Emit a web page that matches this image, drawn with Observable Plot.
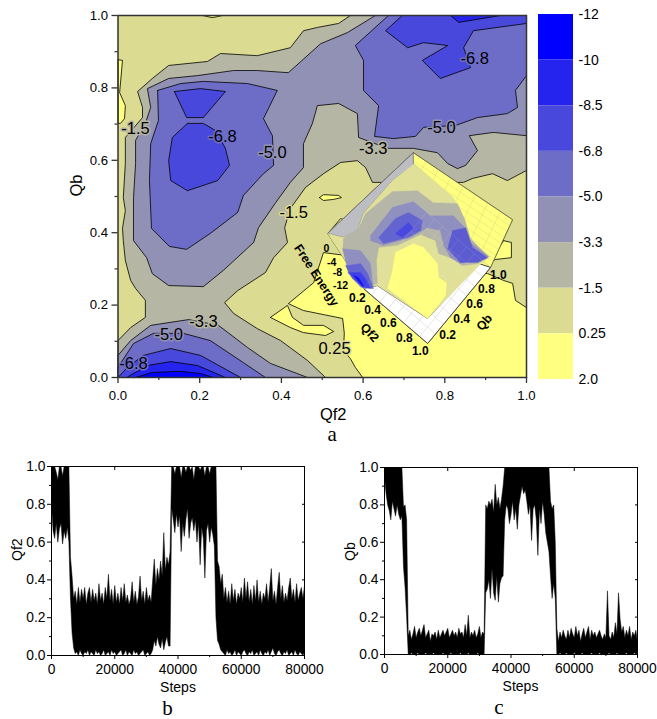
<!DOCTYPE html>
<html><head><meta charset="utf-8">
<script src="https://cdn.jsdelivr.net/npm/d3@7"></script>
<script src="https://cdn.jsdelivr.net/npm/@observablehq/plot@0.6"></script>
<style>
html,body{margin:0;padding:0;background:#fff}
#page{position:relative;width:657px;height:719px;overflow:hidden}
#page>div{position:absolute}
svg{display:block;background:transparent}
</style></head><body><div id="page"></div>
<script>
const SANS = "'Liberation Sans',Arial,sans-serif";
const SERIF = "'Liberation Serif','Times New Roman',serif";

// legend
const levelLabels = ["-12","-10","-8.5","-6.8","-5.0","-3.3","-1.5","0.25","2.0"];
const bandColors = ["#0000FF","#2424EE","#4848DD","#6D6DC8","#9191B6","#B6B6A4","#DBDB92","#FFFF80"];

// contour regions: [Qf2, Qb] outline points
const allArea = [[0,0],[1,0],[1,1],[0,1]];
const y1Big = [[.599,0],[.581,.028],[.569,.052],[.552,.075],[.554,.122],[.550,.163],[.454,.185],[.417,.204],[.479,.262],[.503,.345],[.905,.287],[.944,.268],[.966,.260],[.973,.213],[1,.193],[1,0]];
const y2Finger = [[.373,.166],[.415,.199],[.427,.166],[.454,.144],[.503,.144],[.528,.127],[.508,.116],[.454,.124],[.422,.138]];
const y3Sliver = [[.493,.497],[.503,.505],[.540,.503],[.547,.497],[.528,.492],[.503,.489]];
const y4Spot = [[.520,.406],[.545,.439],[.557,.434],[.532,.392]];
const y5Left = [[0,.878],[.011,.876],[.004,.787],[.018,.751],[.016,.715],[.006,.702],[0,.702]];
const y6Top = [[.207,1],[.231,.994],[.256,1]];
const y7Right = [[.944,.378],[.963,.373],[.963,.331],[.924,.326],[.907,.318]];
const l2Gray = [[.569,1],[.540,.978],[.488,.967],[.454,.958],[.422,.911],[.341,.889],[.251,.895],[.219,.873],[.124,.862],[.084,.826],[.048,.790],[.060,.746],[.060,.718],[.018,.663],[.018,.591],[.013,.497],[.018,.461],[.011,.412],[.013,.378],[.018,.323],[.031,.268],[.043,.246],[.067,.213],[.067,.166],[.031,.138],[0,.102],[0,0],[.508,0],[.464,.047],[.398,.102],[.341,.135],[.283,.177],[.261,.207],[.293,.240],[.361,.290],[.381,.331],[.415,.373],[.408,.414],[.422,.467],[.459,.525],[.503,.563],[.545,.594],[.586,.599],[.606,.580],[.623,.539],[.846,.539],[.868,.550],[.917,.563],[.953,.544],[1,.572],[1,1]];
const l3Upper = [[.630,1],[.562,.953],[.496,.922],[.417,.842],[.341,.848],[.283,.848],[.195,.834],[.124,.826],[.072,.798],[.080,.746],[.067,.702],[.043,.655],[.043,.591],[.038,.497],[.038,.378],[.070,.331],[.084,.287],[.124,.254],[.209,.251],[.258,.296],[.332,.373],[.344,.414],[.386,.483],[.422,.539],[.454,.580],[.454,.646],[.476,.702],[.488,.751],[.540,.757],[.586,.729],[.589,.663],[.660,.633],[.723,.633],[.782,.621],[.807,.591],[.831,.577],[.851,.586],[.880,.627],[.860,.668],[.919,.677],[1,.668],[1,1]];
const l3Lower = [[0,.061],[.031,.102],[.080,.144],[.173,.160],[.246,.144],[.317,.083],[.373,.039],[.464,0],[0,0]];
const l4Left = [[.097,.793],[.153,.812],[.209,.818],[.317,.812],[.390,.793],[.356,.715],[.378,.668],[.381,.586],[.356,.563],[.307,.503],[.293,.456],[.226,.398],[.168,.354],[.126,.362],[.082,.412],[.077,.544],[.080,.646],[.099,.710]];
const l4Right = [[.662,1],[.581,.917],[.601,.876],[.601,.793],[.638,.751],[.628,.666],[.674,.660],[.728,.666],[.748,.691],[.826,.696],[.880,.718],[.953,.729],[.978,.746],[.973,.793],[1,.834],[1,1]];
const l4Lower = [[0,.028],[.038,.094],[.087,.122],[.160,.122],[.226,.102],[.307,.041],[.361,0],[0,0]];
const l5Trap = [[.138,.790],[.202,.798],[.263,.790],[.209,.718],[.168,.718]];
const l5Core = [[.170,.702],[.209,.702],[.239,.682],[.263,.633],[.273,.586],[.244,.544],[.170,.516],[.129,.544],[.124,.599],[.133,.663]];
const l5Right = [[.696,1],[.655,.958],[.709,.911],[.748,.925],[.807,.917],[.745,.876],[.789,.826],[.863,.856],[.846,.911],[.870,.958],[1,.978],[1,1]];
const l5Lower = [[0,0],[.023,.028],[.062,.061],[.129,.080],[.202,.061],[.300,0]];
const l6Top = [[.814,1],[.834,.981],[.936,1]];
const l6Lower = [[.021,0],[.072,.033],[.129,.044],[.195,.033],[.263,0]];
const l7Lower = [[.043,0],[.084,.014],[.153,.017],[.202,.011],[.234,0]];

// contour labels
const contourText = ["-1.5","-6.8","-5.0","-3.3","-1.5","-6.8","-5.0","-3.3","-5.0","-6.8","0.25"];
const contourQf2 = [.043,.256,.378,.625,.430,.873,.792,.209,.124,.038,.530];
const contourQb = [.688,.666,.621,.633,.456,.881,.691,.155,.119,.039,.080];
const contourHalo = ["#B6B6A4","#6D6DC8","#9191B6","#B6B6A4","#DBDB92","#6D6DC8","#9191B6","#B6B6A4","#9191B6","#6D6DC8","#DBDB92"];

// inset 3D view, outlines in the coordinates of panel a
const insetBack = [[.723,.621],[.966,.436],[.912,.304],[.758,.094],[.601,.246],[.513,.398]];
const insetFloor = [[.601,.246],[.758,.094],[.912,.304],[.883,.315],[.758,.163],[.635,.254]];
const insetWall = [[.723,.621],[.513,.398],[.552,.387],[.586,.406],[.601,.453],[.672,.544],[.723,.586]];
const surfBase = [[.726,.591],[.821,.497],[.848,.439],[.863,.378],[.912,.334],[.883,.309],[.758,.163],[.635,.254],[.601,.246],[.513,.398],[.552,.387],[.586,.406],[.601,.453],[.672,.544]];
const surfYellow = [[.679,.345],[.723,.370],[.748,.359],[.782,.315],[.785,.276],[.804,.262],[.802,.226],[.758,.163],[.660,.246],[.672,.296]];
const surfGray = [[.552,.384],[.589,.412],[.606,.453],[.672,.514],[.733,.516],[.772,.483],[.831,.481],[.848,.439],[.863,.384],[.907,.334],[.883,.315],[.843,.309],[.819,.329],[.785,.342],[.777,.378],[.741,.395],[.684,.365],[.638,.359],[.633,.323],[.635,.260],[.601,.246],[.569,.287],[.550,.351]];
const surfSlate1 = [[.618,.392],[.672,.470],[.723,.486],[.765,.447],[.821,.447],[.851,.412],[.863,.373],[.907,.334],[.880,.323],[.838,.315],[.814,.331],[.797,.365],[.789,.406],[.758,.414],[.716,.387],[.650,.365],[.618,.378]];
const surfSlate2 = [[.550,.356],[.594,.351],[.618,.315],[.625,.246],[.594,.249],[.564,.287]];
const surfBlue1 = [[.638,.387],[.679,.439],[.711,.456],[.745,.434],[.741,.406],[.709,.387],[.650,.370]];
const surfBlue2 = [[.819,.406],[.851,.414],[.868,.359],[.905,.331],[.880,.318],[.838,.318],[.807,.356]];
const surfBlue3 = [[.557,.309],[.594,.315],[.611,.287],[.625,.246],[.599,.249],[.574,.273]];
const surfDark1 = [[.679,.398],[.711,.428],[.723,.412],[.696,.387]];
const surfDark2 = [[.564,.290],[.594,.290],[.606,.273],[.618,.246],[.599,.249]];
const surfDeep = [[.577,.282],[.589,.276],[.601,.254],[.599,.251]];
const floorCorners = [[.601,.246],[.758,.094],[.912,.304]];
const wallCorners = [[.723,.621],[.966,.436],[.912,.304]];

const insetText = ["0","-4","-8","-12","0.2","0.4","0.6","0.8","1.0","0.2","0.4","0.6","0.8","1.0"];
const insetQf2 = [.510,.523,.537,.545,.586,.623,.662,.701,.740,.807,.841,.873,.902,.931];
const insetQb = [.356,.318,.290,.254,.218,.185,.149,.110,.072,.116,.160,.202,.243,.282];
const insetSize = [10.5,10.5,10.5,10.5,12,12,12,12,12,12,12,12,12,12];
const insetTitles = ["Free Energy","Qf2","Qb"];
const insetTitleQf2 = [.486,.616,.897];
const insetTitleQb = [.282,.124,.152];
const insetTitleAngle = [57,48,-50];

// panels b and c: upper and lower edge of the black trace, one value every 500 steps
const stepSize = 500;
const bTop = [1,1,1,.97,.93,1,1,.95,1,1,1,1,.52,.42,.30,
.34,.27,.36,.28,.35,.30,.36,.27,.33,.36,.28,.35,.29,.33,.27,.38,.29,.33,.27,.36,.30,.43,.29,.35,.27,.37,.28,.33,.27,.36,.29,.38,.28,.32,.27,.30,.39,.28,.34,.27,.31,.42,.29,.34,.27,.36,.29,.32,.28,.40,
.51,.37,.46,.40,.50,.42,.65,.45,.52,.48,.55,
1,1,.96,1,1,1,.94,1,1,.97,1,1,.98,1,.93,1,1,1,.98,1,1,.95,1,1,.96,1,1,1,1,
.50,.47,.38,.43,
.30,.36,.28,.34,.27,.38,.29,.35,.27,.33,.30,.36,.28,.41,.30,.39,.28,.35,.27,.37,.29,.40,.28,.34,.27,.33,.30,.38,.28,.36,.46,.29,.34,.27,.36,.44,.30,.37,.28,.33,.29,.36,.41,.30,.35,.28,.38,.29,.33,.36,.30,.37];
const bBottom = [.80,.66,.62,.70,.60,.67,.70,.59,.66,.62,.68,.60,.30,.12,.04,
.01,.02,0,.03,.01,0,.02,.01,.03,0,.02,.01,0,.03,.01,.02,0,.01,.03,0,.01,.02,0,.03,.01,.02,0,.01,.02,.03,0,.01,.03,0,.02,.01,0,.03,.01,.02,0,.01,.02,.03,0,.01,.02,0,.01,.03,
.08,.05,.10,.06,.04,.09,.03,.07,.10,.05,.05,
.78,.72,.65,.75,.68,.74,.55,.70,.63,.72,.78,.62,.70,.73,.66,.72,.60,.70,.48,.68,.62,.41,.66,.70,.60,.68,.64,.58,.20,
.08,.06,.03,.02,
.01,0,.03,.01,.02,0,.01,.03,0,.02,.01,0,.02,.03,.01,0,.02,.01,.03,0,.01,.02,0,.03,.01,0,.02,.01,.03,0,.02,.04,.01,0,.02,.03,.01,0,.02,.01,.03,0,.01,.02,0,.03,.01,0,.02,.01,0,.02];
const cTop = [1,1,1,1,1,1,1,1,1,1,1,1,.79,.80,.72,
.10,.13,.08,.11,.15,.09,.12,.14,.10,.13,.16,.09,.11,.13,.07,.11,.10,.12,.08,.13,.09,.11,.13,.10,.12,.14,.09,.11,.13,.10,.12,.09,.14,.11,.12,.09,.16,.10,.21,.09,.12,.10,.13,.09,.11,.15,.09,.12,.11,
.80,.78,.82,.80,.83,.76,.91,.80,.84,.78,.83,.90,
1,1,1,1,1,1,1,1,1,1,1,1,1,1,1,1,1,1,1,1,1,1,1,1,1,1,1,1,1,
.82,.78,.80,.60,
.14,.07,.12,.09,.13,.10,.08,.13,.09,.14,.11,.09,.15,.10,.13,.07,.11,.14,.09,.12,.15,.08,.13,.10,.12,.09,.11,.13,.10,.08,.11,.09,.34,.10,.08,.12,.09,.17,.11,.33,.19,.12,.15,.09,.13,.10,.15,.08,.12,.10,.13,.06];
const cBottom = [.95,.86,.80,.77,.72,.82,.78,.74,.80,.75,.72,.74,.47,.36,.20,
0,0,.01,0,0,0,.01,0,0,0,0,.01,0,0,0,0,.01,0,0,0,0,0,.01,0,0,0,0,.01,0,0,0,0,0,.01,0,0,0,0,.01,0,0,0,0,0,.01,0,0,0,0,
.33,.35,.40,.30,.46,.33,.29,.42,.28,.38,.41,.42,
.72,.80,.78,.70,.75,.82,.72,.78,.67,.80,.85,.90,.86,.88,.82,.75,.80,.61,.78,.80,.72,.53,.78,.70,.82,.75,.65,.60,.55,
.42,.30,.38,.30,
0,0,.01,0,0,0,.01,0,0,0,0,.01,0,0,0,0,.01,0,0,0,0,0,.01,0,0,0,0,.01,0,0,0,0,0,.01,0,0,0,0,.01,0,0,0,0,0,.01,0,0,0,0,.01,0,0];

const stepTicks = [0,20000,40000,60000,80000];
const stepMinor = [10000,30000,50000,70000];
const unitTicks = [0,.2,.4,.6,.8,1];
const unitMinor = [.1,.3,.5,.7,.9];

const poly = (pts, fill, stroke="#000", strokeWidth=.8) =>
  Plot.line([...pts, pts[0]], {x:d=>d[0], y:d=>d[1], fill, stroke, strokeWidth, strokeLinejoin:"round"});
const flat = (pts, fill) => poly(pts, fill, fill, .3);

function latticeLinks([a,b,c], n, stroke, opacity, width=.6){
  const rows = [];
  const mix = (p,q,t)=>[p[0]+(q[0]-p[0])*t, p[1]+(q[1]-p[1])*t];
  const d = [c[0]-b[0], c[1]-b[1]];
  for (const i of d3.range(n+1)){
    const t=i/n, s=mix(a,b,t);
    rows.push({a:s, b:[s[0]+d[0], s[1]+d[1]]});
    const u=mix(a,[a[0]+d[0],a[1]+d[1]],t);
    rows.push({a:u, b:[u[0]+b[0]-a[0], u[1]+b[1]-a[1]]});
  }
  return Plot.link(rows,{x1:r=>r.a[0],y1:r=>r.a[1],x2:r=>r.b[0],y2:r=>r.b[1],stroke,strokeOpacity:opacity,strokeWidth:width});
}

function place(svg,left,top){
  const d=document.createElement("div");
  d.style.left=left+"px"; d.style.top=top+"px";
  d.appendChild(svg);
  document.getElementById("page").appendChild(d);
}

// panel a
place(Plot.plot({
  width:657,height:445,marginLeft:117.5,marginRight:131,marginTop:15,marginBottom:68,
  style:{fontFamily:SANS,background:"transparent",color:"#000"},
  x:{domain:[0,1]},y:{domain:[0,1]},
  marks:[
    flat(allArea,bandColors[6]),
    [y1Big,y2Finger,y3Sliver,y4Spot,y5Left,y6Top,y7Right].map(p=>poly(p,bandColors[7])),
    poly(l2Gray,bandColors[5]),
    poly(l3Upper,bandColors[4]),poly(l3Lower,bandColors[4]),
    poly(l4Left,bandColors[3]),poly(l4Right,bandColors[3]),poly(l4Lower,bandColors[3]),
    poly(l5Trap,bandColors[2]),poly(l5Core,bandColors[2]),poly(l5Right,bandColors[2]),poly(l5Lower,bandColors[2]),
    poly(l6Top,bandColors[1]),poly(l6Lower,bandColors[1]),
    poly(l7Lower,bandColors[0]),
    Plot.text(contourText,{x:(d,i)=>contourQf2[i],y:(d,i)=>contourQb[i],text:d=>d,fontSize:16.5,fill:"#000",stroke:(d,i)=>contourHalo[i],strokeWidth:3,paintOrder:"stroke"}),
    // inset
    poly(insetBack,bandColors[7],"#222",.7),
    latticeLinks(wallCorners,8,"#a8a878",.4,.5),
    flat(insetFloor,"#FFFFFF"),
    latticeLinks(floorCorners,8,"#999",.5,.5),
    poly(insetFloor,"none","#111",.8),
    poly(insetWall,"#BDBDC4","#666",.7),
    flat(surfBase,"#E0E098"),
    flat(surfYellow,"#FFFF80"),
    flat(surfGray,"#B6B6A8"),
    flat(surfSlate1,"#9090C0"),flat(surfSlate2,"#9090C0"),
    flat(surfBlue1,"#6464D0"),flat(surfBlue2,"#5C5CD0"),flat(surfBlue3,"#6464D0"),
    flat(surfDark1,"#4848E0"),flat(surfDark2,"#4040E8"),
    flat(surfDeep,"#1010F4"),
    latticeLinks(floorCorners,8,"#fff",.2,.5),
    Plot.text(insetText,{x:(d,i)=>insetQf2[i],y:(d,i)=>insetQb[i],text:d=>d,fontSize:(d,i)=>insetSize[i],fontWeight:"bold",fill:"#000"}),
    Plot.text(insetTitles,{x:(d,i)=>insetTitleQf2[i],y:(d,i)=>insetTitleQb[i],text:d=>d,rotate:(d,i)=>insetTitleAngle[i],fontSize:12.3,fontWeight:"bold",fill:"#000"}),
    // frame and axes
    Plot.frame({stroke:"#333",strokeWidth:1.5}),
    Plot.axisX({ticks:unitTicks,tickSize:6,tickPadding:7,tickFormat:".1f",fontSize:13.2,label:null,stroke:"#333",strokeWidth:1.3,color:"#000"}),
    Plot.axisX({ticks:unitMinor,tickSize:3,tickFormat:()=>"",label:null,stroke:"#333",strokeWidth:1.2}),
    Plot.axisY({ticks:unitTicks,tickSize:6,tickPadding:4,tickFormat:".1f",fontSize:13.2,label:null,stroke:"#333",strokeWidth:1.3,color:"#000"}),
    Plot.axisY({ticks:unitMinor,tickSize:3,tickFormat:()=>"",label:null,stroke:"#333",strokeWidth:1.2}),
    Plot.text(["Qf2"],{frameAnchor:"bottom",dy:42,dx:11,fontSize:16.5,fill:"#000"}),
    Plot.text(["Qb"],{frameAnchor:"left",dx:-41.5,rotate:-90,fontSize:16.5,fill:"#000"}),
    Plot.text(["a"],{frameAnchor:"bottom",dy:63,dx:10,fontSize:21,fontFamily:SERIF,fill:"#000"})
  ]
}),0,0);

// legend
place(Plot.plot({
  width:127,height:400,marginLeft:8,marginRight:84,marginTop:14,marginBottom:21,
  style:{fontFamily:SANS,background:"transparent",color:"#000"},
  x:{domain:[0,1],axis:null},y:{domain:[8,0],axis:null},
  marks:[
    Plot.rect(bandColors,{x1:0,x2:1,y1:(d,i)=>i,y2:(d,i)=>i+1,fill:d=>d}),
    Plot.axisY({anchor:"right",ticks:d3.range(9),tickSize:0,tickPadding:5,fontSize:14,label:null,tickFormat:i=>levelLabels[i],color:"#000"})
  ]
}),530,0);

// panels b and c
function trace(top,bottom,yName,left,opt,letter,ldx){
  const up = top.map((q,i)=>[i*stepSize,q]);
  const down = bottom.map((q,i)=>[i*stepSize,q]).reverse();
  place(Plot.plot({
    width:opt.w,height:269,marginLeft:opt.l,marginRight:opt.r,marginTop:opt.t,marginBottom:opt.b,
    style:{fontFamily:SANS,background:"transparent",color:"#000"},
    x:{domain:[0,80000]},y:{domain:[0,1]},
    marks:[
      Plot.line([...up,...down,up[0]],{x:d=>d[0],y:d=>d[1],fill:"#000",stroke:"#000",strokeWidth:.5}),
      Plot.frame({stroke:"#000",strokeWidth:1}),
      Plot.axisX({ticks:stepTicks,tickSize:4,tickPadding:5,tickFormat:d=>String(d),fontSize:13.8,label:null,color:"#000"}),
      Plot.axisX({ticks:stepMinor,tickSize:2,tickFormat:()=>"",label:null}),
      Plot.axisY({ticks:unitTicks,tickSize:4,tickPadding:2,tickFormat:".1f",fontSize:13.8,label:null,color:"#000"}),
      Plot.axisY({ticks:unitMinor,tickSize:2,tickFormat:()=>"",label:null}),
      Plot.axisX({anchor:"top",ticks:stepTicks,tickSize:-3,tickFormat:()=>"",label:null}),
      Plot.axisY({anchor:"right",ticks:unitTicks,tickSize:-3,tickFormat:()=>"",label:null}),
      Plot.text(["Steps"],{frameAnchor:"bottom",dy:36,dx:opt.sdx,fontSize:14,fill:"#000"}),
      Plot.text([yName],{frameAnchor:"left",dx:opt.ydx,rotate:-90,fontSize:14,fill:"#000"}),
      Plot.text([letter],{frameAnchor:"bottom",dy:59,dx:ldx,fontSize:21,fontFamily:SERIF,fill:"#000"})
    ]
  }),left,450);
}
trace(bTop,bBottom,"Qf2",0,{w:330,l:51,r:26,t:16,b:64,ydx:-34,sdx:0},"b",-10.5);
trace(cTop,cBottom,"Qb",330,{w:327,l:54,r:20,t:17,b:65,ydx:-34,sdx:9.5},"c",-12);
</script></body></html>
